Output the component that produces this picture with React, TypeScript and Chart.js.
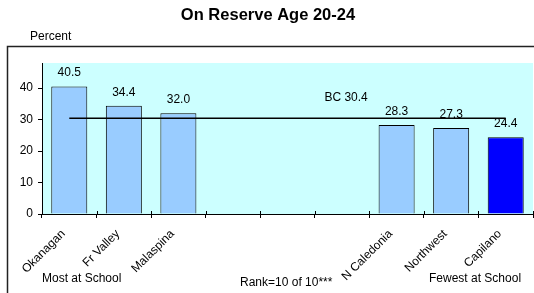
import React, { useEffect, useRef } from "react";
import { Chart, registerables } from "chart.js";

Chart.register(...registerables);

const title = "On Reserve Age 20-24";
const yAxisTitle = "Percent";
const categories = ["Okanagan", "Fr Valley", "Malaspina", "", "", "", "N Caledonia", "Northwest", "Capilano"];
const values: (number | null)[] = [40.5, 34.4, 32.0, null, null, null, 28.3, 27.3, 24.4];
const bcValue = 30.4;
const bcLabel = "BC 30.4";
const bcLabelCategory = 5;
const highlighted = "Capilano";
const yTickValues = [0, 10, 20, 30, 40];
const yMax = 48;
const leftNote = "Most at School";
const rankNote = "Rank=10 of 10***";
const rightNote = "Fewest at School";

const FONT = "Arial, 'Liberation Sans', sans-serif";

export default function App() {
  const ref = useRef<HTMLCanvasElement | null>(null);

  useEffect(() => {
    if (!ref.current) return;
    const bcLine = categories.map(() => bcValue);

    const decor = {
      id: "decor",
      beforeDraw(chart: any) {
        const { ctx, chartArea } = chart;
        ctx.save();
        ctx.fillStyle = "#CCFFFF";
        ctx.fillRect(chartArea.left, chartArea.top, chartArea.right - chartArea.left, chartArea.bottom - chartArea.top);
        ctx.strokeStyle = "#222";
        ctx.lineWidth = 1.5;
        ctx.beginPath();
        ctx.moveTo(7.5, 293);
        ctx.lineTo(7.5, 46.5);
        ctx.lineTo(534, 46.5);
        ctx.stroke();
        ctx.restore();
      },
      afterDraw(chart: any) {
        const { ctx, chartArea } = chart;
        const xs = chart.scales.x;
        const ys = chart.scales.y;
        ctx.save();
        // small inward tick marks on x axis at category boundaries
        ctx.strokeStyle = "#000";
        ctx.lineWidth = 1;
        ctx.beginPath();
        for (let i = 0; i <= categories.length; i++) {
          const bx = Math.round(xs.getPixelForValue(i - 0.5)) + 0.5;
          ctx.moveTo(bx, chartArea.bottom);
          ctx.lineTo(bx, chartArea.bottom - 3);
        }
        ctx.stroke();

        ctx.fillStyle = "#000";
        ctx.textAlign = "center";
        ctx.textBaseline = "middle";
        ctx.font = `bold 16.5px ${FONT}`;
        ctx.fillText(title, 268, 15);
        ctx.font = `12px ${FONT}`;
        ctx.textAlign = "left";
        ctx.fillText(yAxisTitle, 30, 37);
        ctx.fillText(leftNote, 42, 279);
        ctx.fillText(rankNote, 240, 283);
        ctx.fillText(rightNote, 429, 279);
        // value labels
        ctx.textAlign = "center";
        values.forEach((v, i) => {
          if (v == null) return;
          const x = xs.getPixelForValue(i);
          const y = ys.getPixelForValue(v);
          ctx.fillText(v.toFixed(1), x, y - 13.5);
        });
        ctx.fillText(bcLabel, xs.getPixelForValue(bcLabelCategory) + 4, ys.getPixelForValue(bcValue) - 21);
        // rotated category labels
        ctx.textAlign = "right";
        ctx.textBaseline = "middle";
        categories.forEach((c, i) => {
          if (!c) return;
          const x = xs.getPixelForValue(i);
          ctx.save();
          ctx.translate(x - 6, chartArea.bottom + 18);
          ctx.rotate(-Math.PI / 4);
          ctx.fillText(c, 0, 0);
          ctx.restore();
        });
        ctx.restore();
      },
    };

    const chart = new Chart(ref.current, {
      type: "bar",
      data: {
        labels: categories,
        datasets: [
          {
            type: "line",
            data: bcLine,
            borderColor: "#000",
            borderWidth: 1.5,
            pointRadius: 0,
            fill: false,
            order: 0,
          } as any,
          {
            type: "bar",
            data: values,
            backgroundColor: categories.map((c) => (c === highlighted ? "#0000FF" : "#99CCFF")),
            borderColor: "#000",
            borderWidth: 1,
            barPercentage: 0.66,
            categoryPercentage: 1,
            order: 1,
          } as any,
        ],
      },
      options: {
        responsive: false,
        animation: false,
        layout: { padding: { top: 63, right: 1, left: 0, bottom: 0 } },
        plugins: { legend: { display: false }, tooltip: { enabled: false }, title: { display: false } },
        scales: {
          x: {
            afterFit(scale: any) {
              scale.height = 79;
            },
            grid: { display: true, drawOnChartArea: false, drawTicks: true, tickLength: 4, offset: true, color: "#000" },
            border: { display: true, color: "#000", width: 1 },
            ticks: { display: false, autoSkip: false },
          },
          y: {
            min: 0,
            max: yMax,
            afterFit(scale: any) {
              scale.width = 42;
            },
            afterBuildTicks(scale: any) {
              scale.ticks = yTickValues.map((v) => ({ value: v }));
            },
            grid: { display: true, drawOnChartArea: false, drawTicks: true, tickLength: 4, color: "#000" },
            border: { display: true, color: "#000", width: 1 },
            ticks: {
              color: "#000",
              padding: 5,
              font: { family: FONT, size: 12 },
            },
          },
        },
      },
      plugins: [decor],
    });
    return () => chart.destroy();
  }, []);

  return (
    <div style={{ position: "absolute", left: 0, top: 0, width: 534, height: 293 }}>
      <canvas ref={ref} width={534} height={293} style={{ display: "block" }} />
    </div>
  );
}
